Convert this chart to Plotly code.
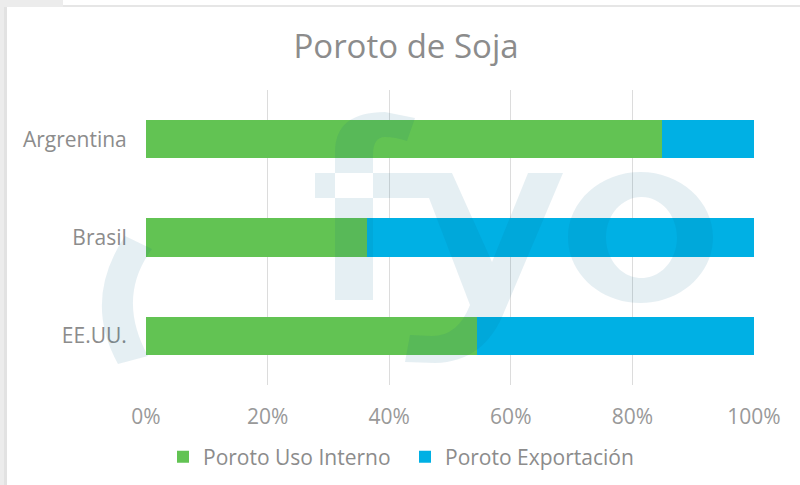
import plotly.graph_objects as go

# ---- data ----
categories = ["Argrentina", "Brasil", "EE.UU."]
uso_interno = [84.9, 36.3, 54.4]
exportacion = [15.1, 63.7, 45.6]
series_names = ["Poroto Uso Interno", "Poroto Exportación"]
x_tickvals = [0, 20, 40, 60, 80, 100]
x_ticktext = ["0%", "20%", "40%", "60%", "80%", "100%"]
title_text = "Poroto de Soja"

W, H = 800, 485
L, R, T, B = 146, 46, 90, 100
PW, PH = W - L - R, H - T - B

def px(x):
    return (x - L) / PW

def py(y):
    return (H - B - y) / PH

def path(cmds):
    out = []
    for c in cmds:
        if isinstance(c, str):
            out.append(c)
        else:
            out.append(f"{px(c[0]):.5f},{py(c[1]):.5f}")
    return " ".join(out)

def ellipse(cx, cy, rx, ry, cw=True):
    k = 0.5523
    if cw:
        pts = ["M", (cx, cy - ry),
               "C", (cx + k * rx, cy - ry), (cx + rx, cy - k * ry), (cx + rx, cy),
               "C", (cx + rx, cy + k * ry), (cx + k * rx, cy + ry), (cx, cy + ry),
               "C", (cx - k * rx, cy + ry), (cx - rx, cy + k * ry), (cx - rx, cy),
               "C", (cx - rx, cy - k * ry), (cx - k * rx, cy - ry), (cx, cy - ry), "Z"]
    else:
        pts = ["M", (cx, cy - ry),
               "C", (cx - k * rx, cy - ry), (cx - rx, cy - k * ry), (cx - rx, cy),
               "C", (cx - rx, cy + k * ry), (cx - k * rx, cy + ry), (cx, cy + ry),
               "C", (cx + k * rx, cy + ry), (cx + rx, cy + k * ry), (cx + rx, cy),
               "C", (cx + rx, cy - k * ry), (cx + k * rx, cy - ry), (cx, cy - ry), "Z"]
    return pts

font_family = "Open Sans"
txt_color = "#8c8c8c"

fig = go.Figure()
fig.add_trace(go.Bar(y=categories, x=uso_interno, orientation="h", name=series_names[0],
                     marker=dict(color="#62c353", line=dict(width=0))))
fig.add_trace(go.Bar(y=categories, x=exportacion, orientation="h", name=series_names[1],
                     marker=dict(color="#00b0e4", line=dict(width=0))))

wm_color = "rgb(0,100,140)"
wm_op = 0.1
shapes = []
# frame
shapes.append(dict(type="rect", xref="paper", yref="paper", x0=px(0), x1=px(7), y0=py(H), y1=py(0),
                   fillcolor="#ececec", line=dict(width=0), layer="below"))
shapes.append(dict(type="rect", xref="paper", yref="paper", x0=px(0), x1=px(63), y0=py(7), y1=py(0),
                   fillcolor="#ececec", line=dict(width=0), layer="below"))
shapes.append(dict(type="rect", xref="paper", yref="paper", x0=px(63), x1=px(W), y0=py(7), y1=py(5),
                   fillcolor="#e6e6e6", line=dict(width=0), layer="below"))
shapes.append(dict(type="rect", xref="paper", yref="paper", x0=px(4), x1=px(7), y0=py(H), y1=py(7),
                   fillcolor="#e2e2e2", line=dict(width=0), layer="below"))

# watermark: f + y
fy = path(["M", (335, 300), "L", (335, 152), "Q", (335, 112), (385, 112), "L", (415, 118),
           "L", (407, 141), "Q", (395, 137), (385, 137), "Q", (373, 137), (373, 155),
           "L", (373, 300), "Z",
           "M", (315, 173), "L", (452, 173), "L", (492, 262), "L", (528, 173), "L", (563, 173),
           "L", (505, 310), "Q", (485, 362), (435, 363), "L", (405, 362), "L", (410, 335),
           "L", (432, 336), "Q", (458, 336), (470, 305), "L", (429, 198), "L", (315, 198), "Z"])
shapes.append(dict(type="path", xref="paper", yref="paper", path=fy, fillcolor=wm_color,
                   line=dict(width=0), opacity=wm_op, layer="above"))
o_path = path(ellipse(640.5, 237.5, 72.5, 65.5, True) + ellipse(641.5, 237.5, 35.5, 40.5, False))
shapes.append(dict(type="path", xref="paper", yref="paper", path=o_path, fillcolor=wm_color,
                   line=dict(width=0), opacity=wm_op, layer="above"))
arc = path(["M", (125, 236), "Q", (82.5, 300), (118, 364), "L", (148, 356),
            "Q", (116, 297.5), (152, 249), "Z"])
shapes.append(dict(type="path", xref="paper", yref="paper", path=arc, fillcolor=wm_color,
                   line=dict(width=0), opacity=wm_op, layer="above"))

fig.update_layout(
    width=W, height=H, autosize=False,
    margin=dict(l=L, r=R, t=T, b=B, pad=0, autoexpand=False),
    barmode="stack", bargap=0.61,
    paper_bgcolor="white", plot_bgcolor="white",
    font=dict(family=font_family, color=txt_color, size=21),
    title=dict(text=title_text, xref="container", x=406 / W, xanchor="center",
               yref="container", y=1 - 46 / H, yanchor="middle",
               font=dict(family=font_family, size=33, color="#8c8c8c")),
    xaxis=dict(range=[0, 100], tickvals=x_tickvals, ticktext=x_ticktext,
               showgrid=True, gridcolor="#dcdcdc", gridwidth=1, zeroline=False,
               showline=False, ticks="outside", ticklen=13, tickcolor="rgba(0,0,0,0)",
               tickfont=dict(size=21, color="#999999"), fixedrange=True, automargin=False),
    yaxis=dict(autorange="reversed", showgrid=False, showline=False, zeroline=False,
               ticks="outside", ticklen=14, tickcolor="rgba(0,0,0,0)",
               tickfont=dict(size=21, color="#8c8c8c"), automargin=False),
    legend=dict(orientation="h", xref="container", x=163 / W, xanchor="left",
                yref="container", y=1 - 457 / H, yanchor="middle",
                font=dict(size=21, color="#8c8c8c"), itemwidth=30, traceorder="normal",
                entrywidth=197, entrywidthmode="pixels"),
    shapes=shapes,
    showlegend=True,
)

fig.write_html("out.html", config={"displayModeBar": False, "responsive": False},
               post_script="document.body.style.margin='0px';")
